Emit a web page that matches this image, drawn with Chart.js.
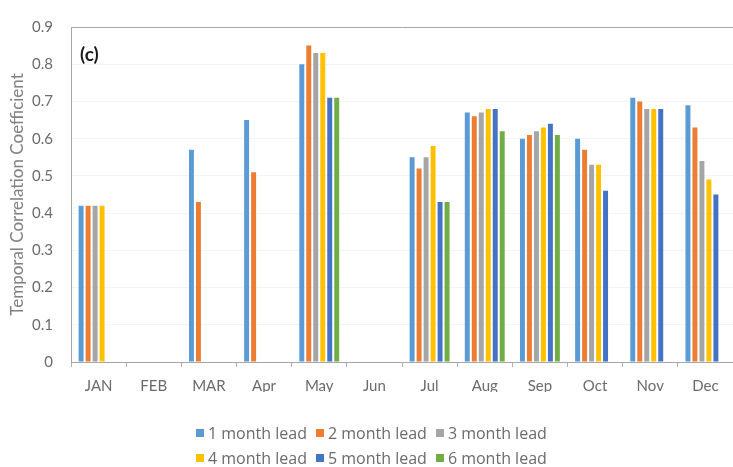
<!DOCTYPE html>
<html>
<head>
<meta charset="utf-8">
<script src="https://cdn.jsdelivr.net/npm/chart.js@4.4.1/dist/chart.umd.min.js"></script>
<style>
  html, body { margin: 0; padding: 0; background: #ffffff; }
  #wrap { position: relative; width: 733px; height: 467px; }
  #chart { position: absolute; left: 0; top: 0; }
  #legend { position: absolute; left: 196px; top: 420px; font-family: "Open Sans", Lato, sans-serif; font-size: 16px; color: #6b6b6b; }
  .row { display: flex; align-items: center; height: 25px; white-space: nowrap; }
  .item { display: flex; align-items: center; margin-right: 9px; }
  .sw { width: 8px; height: 8px; margin-right: 4px; display: inline-block; }
</style>
</head>
<body>
<div id="wrap">
  <canvas id="chart" width="733" height="467"></canvas>
  <div id="legend"></div>
</div>
<script>
const categories = ['JAN', 'FEB', 'MAR', 'Apr', 'May', 'Jun', 'Jul', 'Aug', 'Sep', 'Oct', 'Nov', 'Dec'];
const seriesNames = ['1 month lead', '2 month lead', '3 month lead', '4 month lead', '5 month lead', '6 month lead'];
const lead1 = [0.42, null, 0.57, 0.65, 0.80, null, 0.55, 0.67, 0.60, 0.60, 0.71, 0.69];
const lead2 = [0.42, null, 0.43, 0.51, 0.85, null, 0.52, 0.66, 0.61, 0.57, 0.70, 0.63];
const lead3 = [0.42, null, null, null, 0.83, null, 0.55, 0.67, 0.62, 0.53, 0.68, 0.54];
const lead4 = [0.42, null, null, null, 0.83, null, 0.58, 0.68, 0.63, 0.53, 0.68, 0.49];
const lead5 = [null, null, null, null, 0.71, null, 0.43, 0.68, 0.64, 0.46, 0.68, 0.45];
const lead6 = [null, null, null, null, 0.71, null, 0.43, 0.62, 0.61, null, null, null];
const yTicks = [0, 0.1, 0.2, 0.3, 0.4, 0.5, 0.6, 0.7, 0.8, 0.9];
const panelLabel = '(c)';
const yTitle = 'Temporal Correlation Coefficient';

const colors = ['#5B9BD5', '#ED7D31', '#A5A5A5', '#FFC000', '#4472C4', '#70AD47'];
const seriesValues = [lead1, lead2, lead3, lead4, lead5, lead6];

const datasets = seriesValues.map((vals, i) => ({
  label: seriesNames[i],
  data: vals,
  backgroundColor: colors[i],
  borderWidth: 0,
  categoryPercentage: 0.76,
  barPercentage: 0.71
}));

const FONT = 'Lato, "Open Sans", sans-serif';

const panelPlugin = {
  id: 'panelLabel',
  afterDraw(chart) {
    const ctx = chart.ctx;
    const a = chart.chartArea;
    ctx.save();
    ctx.fillStyle = '#1a1a1a';
    ctx.font = 'bold 19px ' + FONT;
    ctx.textBaseline = 'middle';
    ctx.textAlign = 'left';
    ctx.fillText(panelLabel, a.left + 9, a.top + 28);
    ctx.restore();
  }
};

const chart = new Chart(document.getElementById('chart'), {
  type: 'bar',
  data: { labels: categories, datasets: datasets },
  plugins: [panelPlugin],
  options: {
    responsive: false,
    animation: false,
    layout: { padding: { top: 9, right: 0, bottom: 75, left: 0 } },
    plugins: {
      legend: { display: false },
      tooltip: { enabled: false }
    },
    scales: {
      x: {
        grid: {
          display: true,
          offset: true,
          drawOnChartArea: false,
          drawTicks: true,
          tickLength: 5,
          color: '#b0b0b0'
        },
        border: { display: true, color: '#a6a6a6', width: 1 },
        ticks: {
          color: '#6b6b6b',
          font: { family: FONT, size: 15 },
          padding: 10,
          maxRotation: 0,
          autoSkip: false
        },
        afterFit(scale) { scale.height = 30; }
      },
      y: {
        min: 0,
        max: 0.9,
        afterBuildTicks(scale) { scale.ticks = yTicks.map(v => ({ value: v })); },
        grid: {
          drawTicks: false,
          color: (c) => (c.tick && (c.tick.value === 0.9)) ? '#a6a6a6' : '#f4f4f4',
          lineWidth: 1
        },
        border: { display: true, color: '#a6a6a6', width: 1 },
        ticks: {
          color: '#6b6b6b',
          font: { family: FONT, size: 15 },
          padding: 18,
          callback: (v) => (v === 0 ? '0' : Number(v).toFixed(1))
        },
        title: {
          display: true,
          text: yTitle,
          color: '#808080',
          font: { family: FONT, size: 17 },
          padding: { top: 7, bottom: 0 }
        },
        afterFit(scale) { scale.width = 71; }
      }
    }
  }
});

// HTML legend built from the chart's datasets (two rows of three)
const legendEl = document.getElementById('legend');
for (let r = 0; r < 2; r++) {
  const row = document.createElement('div');
  row.className = 'row';
  for (let k = 0; k < 3; k++) {
    const ds = chart.data.datasets[r * 3 + k];
    const item = document.createElement('span');
    item.className = 'item';
    const sw = document.createElement('span');
    sw.className = 'sw';
    sw.style.background = ds.backgroundColor;
    const tx = document.createElement('span');
    tx.textContent = ds.label;
    item.appendChild(sw);
    item.appendChild(tx);
    row.appendChild(item);
  }
  legendEl.appendChild(row);
}
</script>
</body>
</html>
